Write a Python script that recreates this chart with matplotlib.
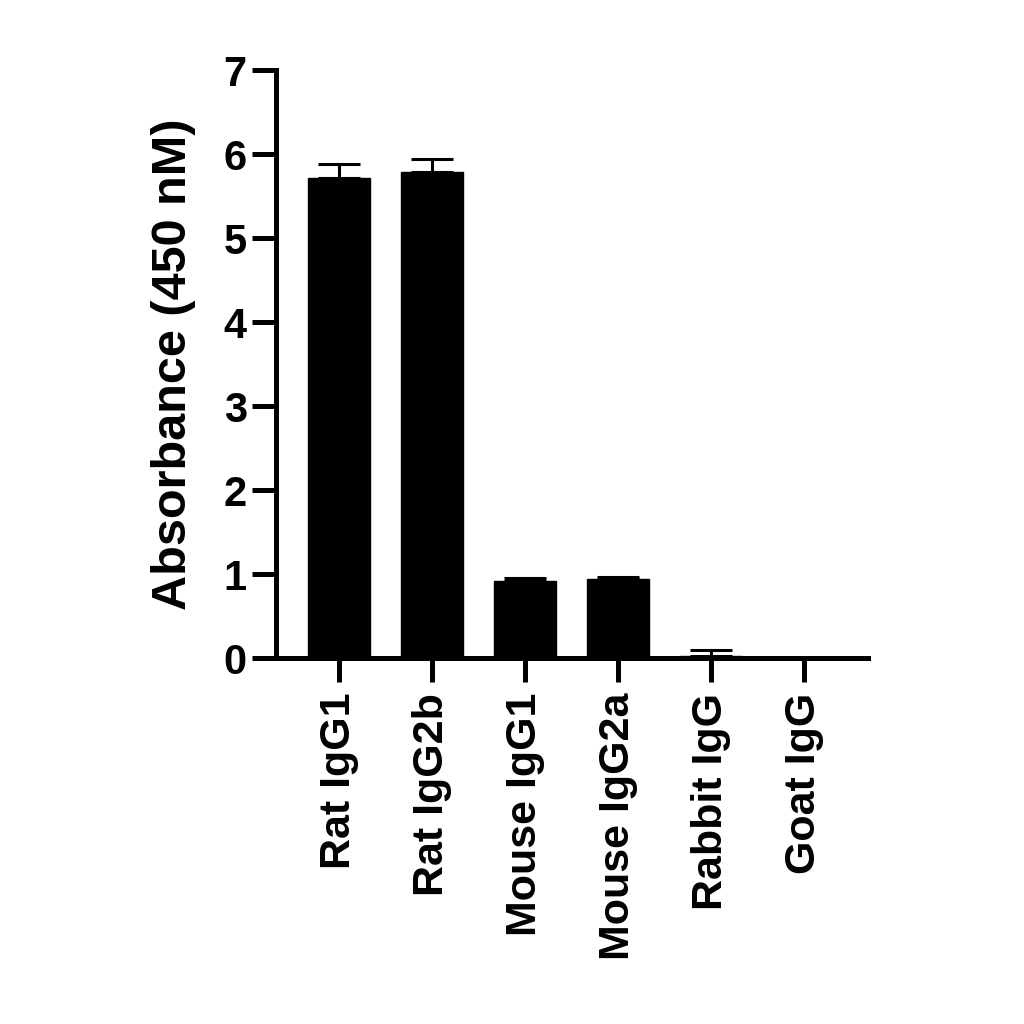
import matplotlib
matplotlib.use('Agg')
import matplotlib.pyplot as plt
import numpy as np

plt.rcParams['font.family'] = ['Liberation Sans', 'DejaVu Sans']
plt.rcParams['font.weight'] = 'bold'

categorias = ['Rat IgG1', 'Rat IgG2b', 'Mouse IgG1', 'Mouse IgG2a', 'Rabbit IgG', 'Goat IgG']
medias = [5.72, 5.79, 0.92, 0.94, 0.03, 0.0]
desvios = [0.16, 0.15, 0.03, 0.03, 0.06, 0.0]

fig = plt.figure(figsize=(10.24, 10.24), dpi=100)
ax = fig.add_axes([0.2695, 0.3574, 0.578, 0.5742])

x = np.arange(len(categorias))
erros = [np.zeros(len(desvios)), desvios]
ax.bar(x, medias, width=0.667, color='black', edgecolor='black',
       yerr=erros, capsize=15, error_kw=dict(elinewidth=2.2, capthick=2.2, ecolor='black'))

ax.set_xlim(-0.677, 5.688)
ax.set_ylim(0, 7)
ax.set_yticks(range(8))
ax.set_xticks(x)
ax.set_xticklabels(categorias, rotation=90, fontsize=31, fontweight='bold')
ax.tick_params(axis='y', labelsize=30, width=3.6, length=17, pad=4)
ax.tick_params(axis='x', width=3.6, length=17, pad=8)
for lbl in ax.get_yticklabels():
    lbl.set_fontweight('bold')

ax.set_ylabel('Absorbance (450 nM)', fontsize=35, fontweight='bold', labelpad=20)

ax.spines['top'].set_visible(False)
ax.spines['right'].set_visible(False)
ax.spines['left'].set_linewidth(3.6)
ax.spines['bottom'].set_linewidth(3.6)

fig.savefig('out.png', dpi=100)
